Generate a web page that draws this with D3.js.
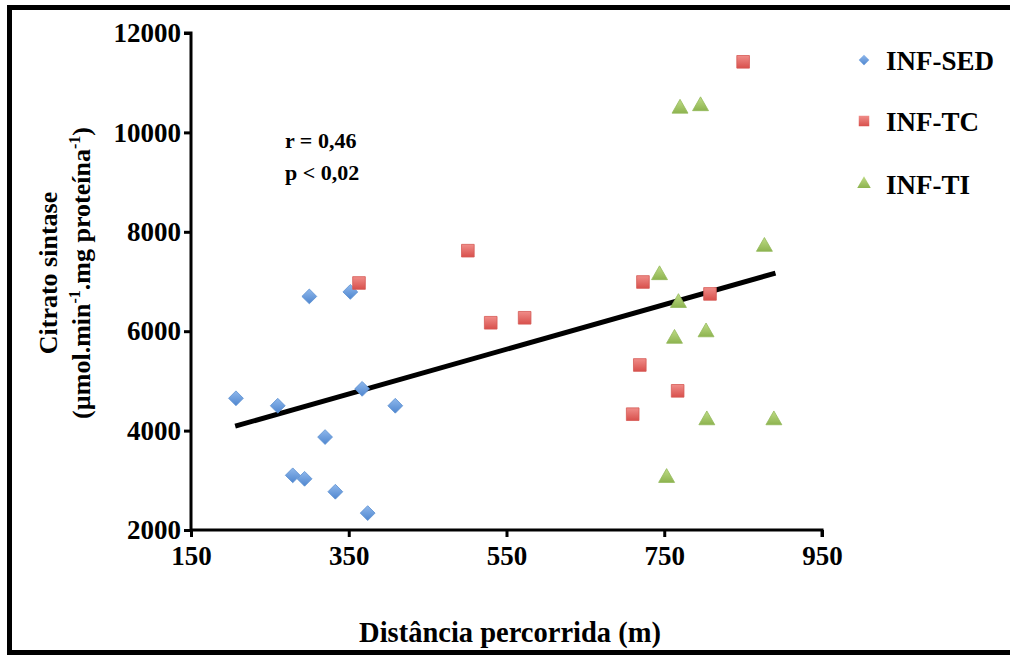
<!DOCTYPE html>
<html><head><meta charset="utf-8">
<script src="https://cdn.jsdelivr.net/npm/d3@7"></script>
<style>body{margin:0;background:#fff}svg{display:block}text{font-family:"Liberation Serif","Times New Roman",serif;font-weight:bold;fill:#000}</style>
</head><body><svg id="c" width="1010" height="655"></svg>
<script>
const sedX = [207, 260, 300, 279, 294, 320, 333, 352, 367, 374, 409];
const sedY = [4650, 4500, 6700, 3100, 3030, 3870, 2770, 6790, 4840, 2340, 4500];
const tcX = [363, 501, 530, 573, 719, 723, 710, 767, 808, 850];
const tcY = [6970, 7620, 6170, 6270, 5320, 6990, 4330, 4800, 6750, 11420];
const tiX = [770, 796, 877, 744, 768, 763, 803, 804, 889, 753];
const tiY = [10480, 10530, 7700, 7130, 6570, 5850, 5980, 4210, 4210, 3050];
const trendX = [206, 891];
const trendY = [4090, 7170];
const xTicks = [150, 350, 550, 750, 950];
const yTicks = [2000, 4000, 6000, 8000, 10000, 12000];
const seriesNames = ["INF-SED", "INF-TC", "INF-TI"];
const statsText = ["r = 0,46", "p < 0,02"];

const svg = d3.select("#c");
const x = d3.scaleLinear().domain([150, 950]).range([191, 822]);
const y = d3.scaleLinear().domain([2000, 12000]).range([530, 33]);

// frame
svg.append("path").attr("d", "M1010,7.5 H9.5 V652.5 H1010").attr("fill", "none").attr("stroke", "#000").attr("stroke-width", 5);

const defs = svg.append("defs");
function grad(id, c1, c2){
  const g = defs.append("linearGradient").attr("id", id).attr("x1",0).attr("y1",0).attr("x2",0).attr("y2",1);
  g.append("stop").attr("offset","0%").attr("stop-color",c1);
  g.append("stop").attr("offset","100%").attr("stop-color",c2);
}
grad("gb", "#8fb8ec", "#4f86cf");
grad("gr", "#f08d89", "#d8504c");
grad("gg", "#bfdc86", "#8db34f");

// axes
const xAxis = d3.axisBottom(x).tickValues(xTicks).tickSize(7).tickFormat(d3.format("d"));
const yAxis = d3.axisLeft(y).tickValues(yTicks).tickSize(7).tickFormat(d3.format("d"));
const gx = svg.append("g").attr("transform", "translate(0,530)").call(xAxis);
const gy = svg.append("g").attr("transform", "translate(191,0)").call(yAxis);
[gx, gy].forEach(g => {
  g.select(".domain").attr("stroke", "#000").attr("stroke-width", 3);
  g.selectAll(".tick line").attr("stroke", "#000").attr("stroke-width", 3);
  g.selectAll(".tick text").attr("font-family", "Liberation Serif").attr("font-weight", "bold").attr("font-size", 27).attr("fill", "#000");
});
gx.select(".domain").attr("d", "M191,0H822V7");
gy.select(".domain").attr("d", "M-7,33H0V530");
gx.selectAll(".tick text").attr("dy", "0.71em").attr("y", 16);
gy.selectAll(".tick text").attr("x", -10);

// trend line
svg.append("line").attr("x1", x(trendX[0])).attr("y1", y(trendY[0])).attr("x2", x(trendX[1])).attr("y2", y(trendY[1]))
  .attr("stroke", "#000").attr("stroke-width", 5);

// markers
const sed = sedX.map((v, i) => [v, sedY[i]]);
const tc = tcX.map((v, i) => [v, tcY[i]]);
const ti = tiX.map((v, i) => [v, tiY[i]]);
const diamond = d3.symbol().type(d3.symbolDiamond2).size(140);
const square = d3.symbol().type(d3.symbolSquare).size(160);
const tri = d3.symbol().type(d3.symbolTriangle).size(110);

svg.append("g").selectAll("path").data(sed).join("path").attr("d", diamond)
  .attr("transform", d => `translate(${x(d[0])},${y(d[1])})`).attr("fill", "url(#gb)").attr("stroke", "#5b8fd0").attr("stroke-width", 0.8);
svg.append("g").selectAll("path").data(tc).join("path").attr("d", square)
  .attr("transform", d => `translate(${x(d[0])},${y(d[1])})`).attr("fill", "url(#gr)").attr("stroke", "#d55a56").attr("stroke-width", 0.8);
svg.append("g").selectAll("path").data(ti).join("path").attr("d", tri)
  .attr("transform", d => `translate(${x(d[0])},${y(d[1])})`).attr("fill", "url(#gg)").attr("stroke", "#93b95a").attr("stroke-width", 0.8);

// stats text
svg.append("text").attr("x", 285).attr("y", 148).attr("font-size", 22).text(statsText[0]);
svg.append("text").attr("x", 285).attr("y", 180).attr("font-size", 22).text(statsText[1]);

// axis titles
svg.append("text").attr("x", 510).attr("y", 642).attr("text-anchor", "middle").attr("font-size", 28.5).text("Distância percorrida (m)");
const yl = svg.append("g").attr("transform", "translate(0,273) rotate(-90)");
yl.append("text").attr("x", 0).attr("y", 57).attr("text-anchor", "middle").attr("font-size", 26).text("Citrato sintase");
const t2 = yl.append("text").attr("x", 0).attr("y", 90).attr("text-anchor", "middle").attr("font-size", 26);
t2.append("tspan").text("(µmol.min");
t2.append("tspan").attr("font-size", 16).attr("dy", -10).text("-1");
t2.append("tspan").attr("dy", 10).text(".mg proteína");
t2.append("tspan").attr("font-size", 16).attr("dy", -10).text("-1");
t2.append("tspan").attr("dy", 10).text(")");

// legend
const lg = svg.append("g");
const legFill = ["url(#gb)", "url(#gr)", "url(#gg)"];
const legY = [60, 121, 184];
seriesNames.forEach((n, i) => {
  const sh = [d3.symbol().type(d3.symbolDiamond2).size(70), d3.symbol().type(d3.symbolSquare).size(110), d3.symbol().type(d3.symbolTriangle).size(80)][i];
  lg.append("path").attr("d", sh).attr("transform", `translate(864,${legY[i]})`).attr("fill", legFill[i]);
  lg.append("text").attr("x", 886).attr("y", legY[i] + 10).attr("font-size", 27).text(n);
});
</script></body></html>
